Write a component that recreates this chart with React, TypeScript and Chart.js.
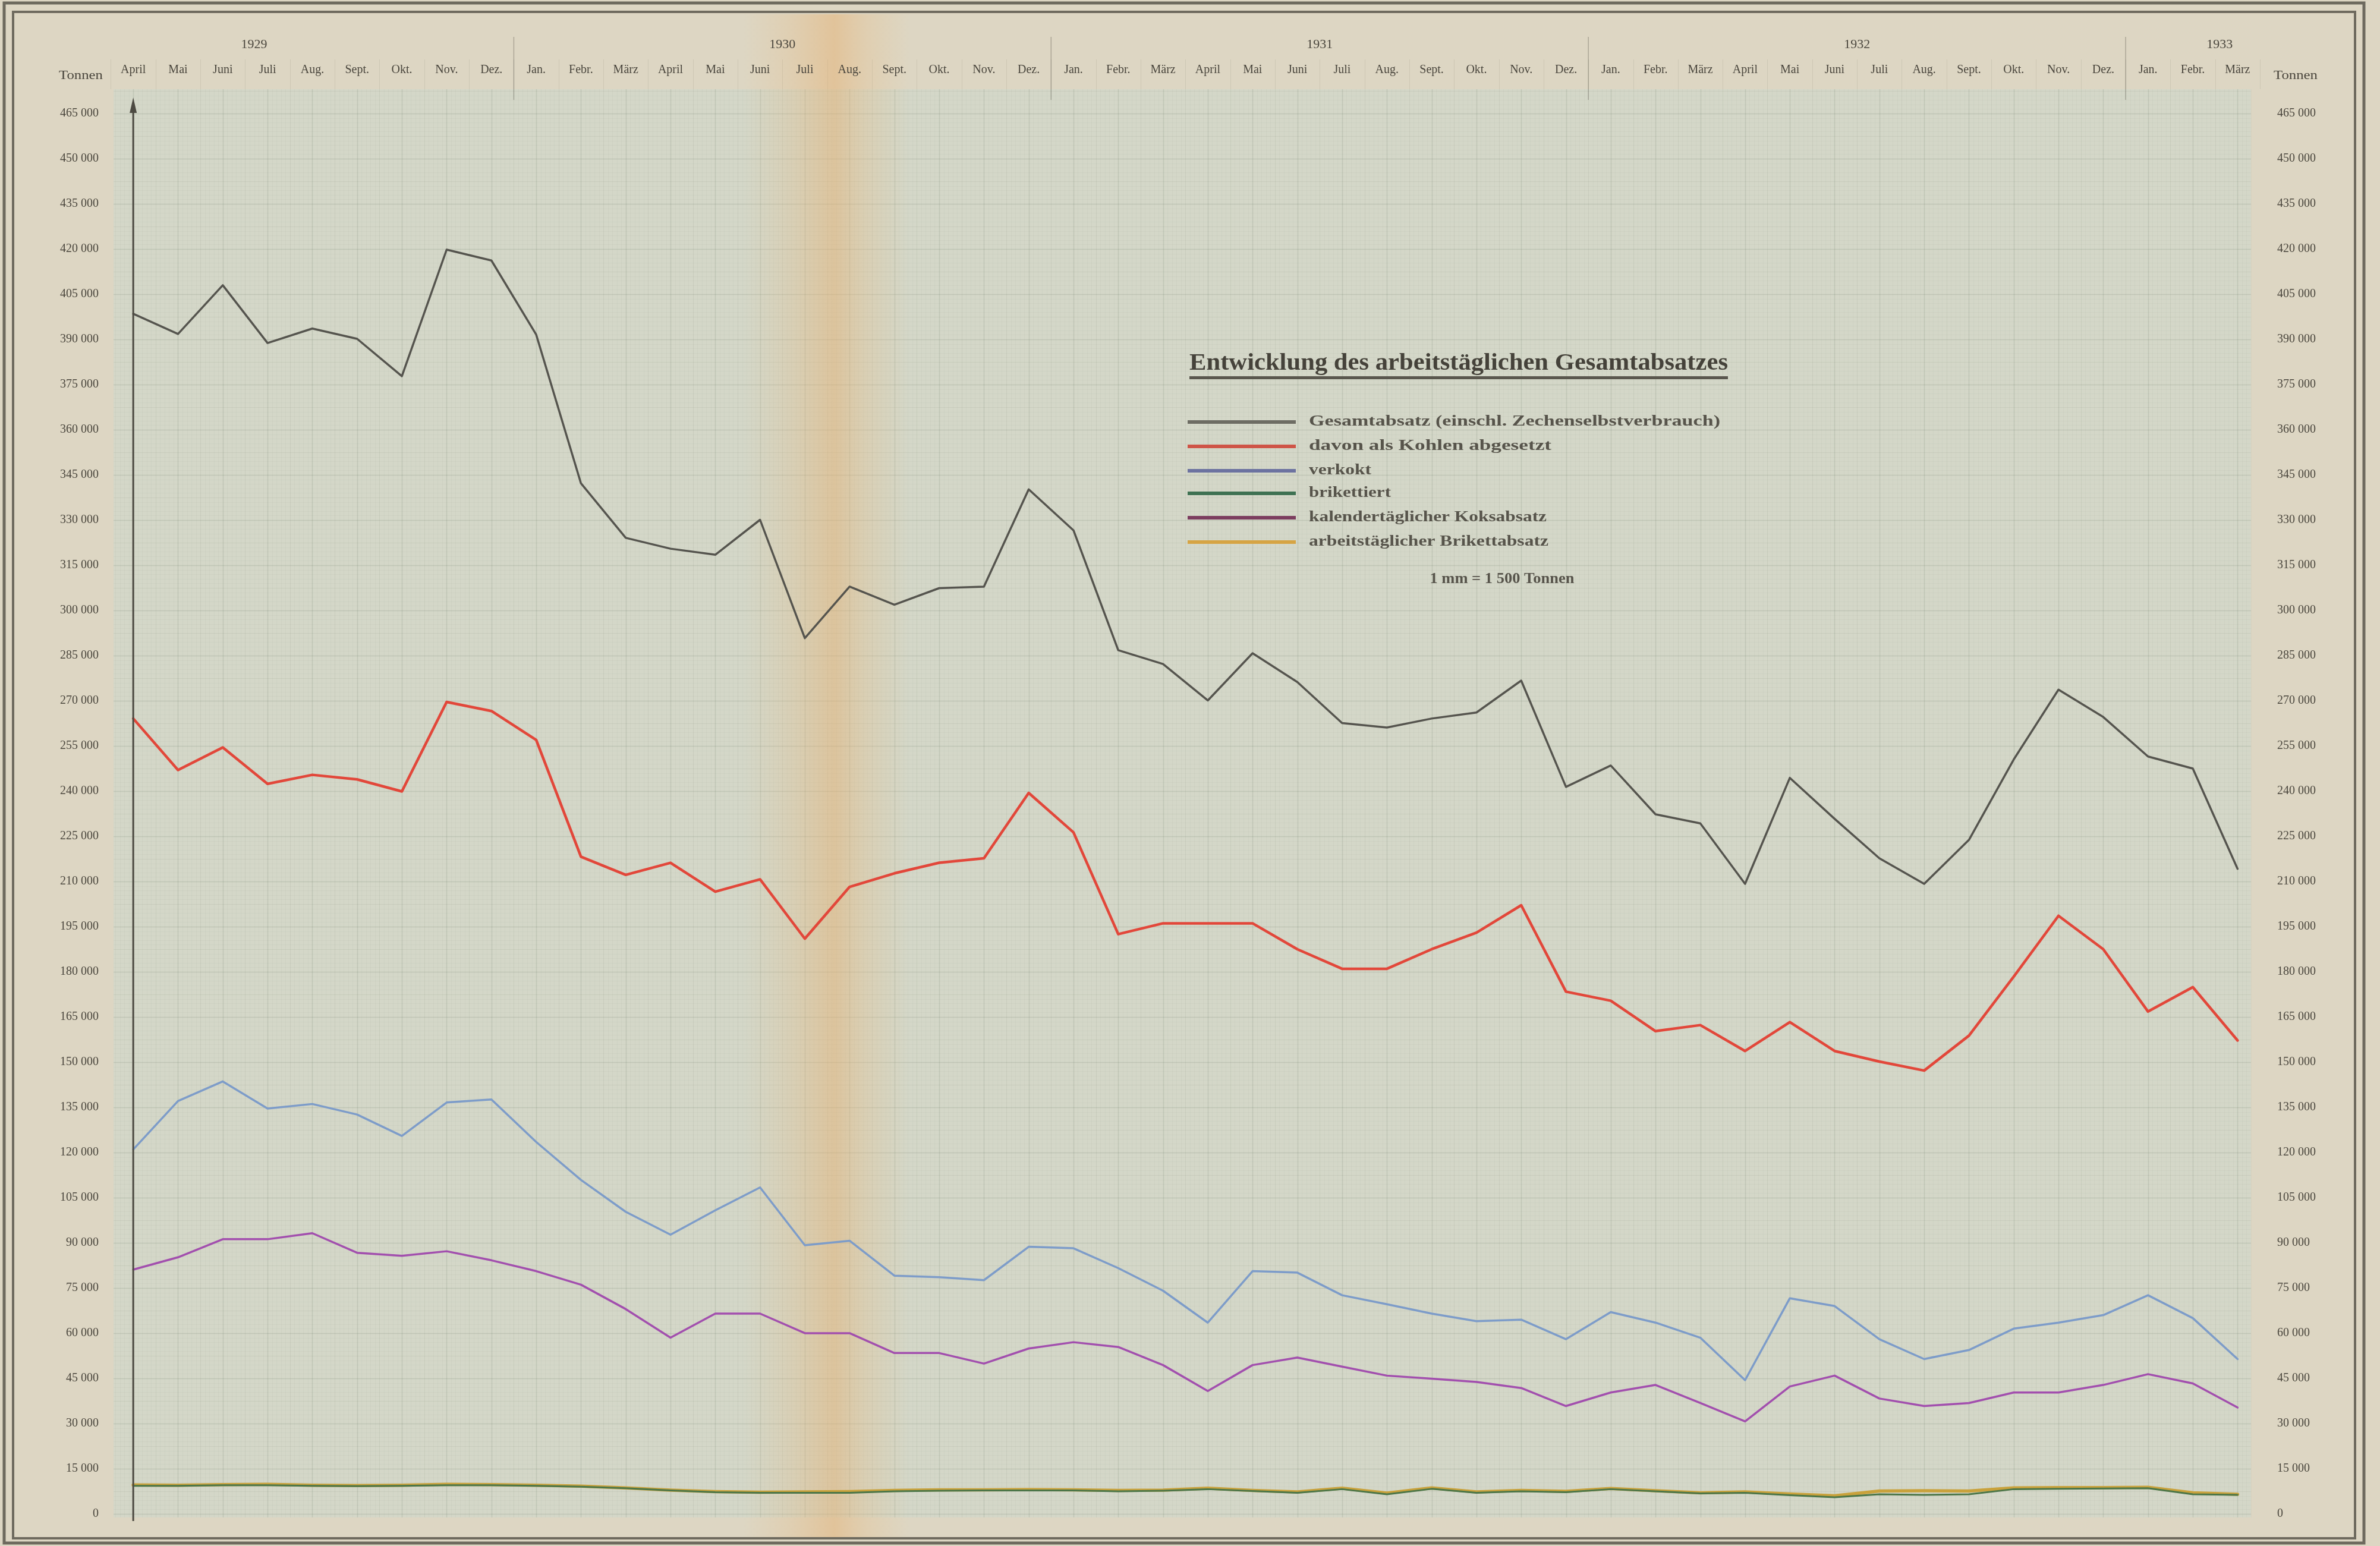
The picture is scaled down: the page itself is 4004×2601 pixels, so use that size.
import React, { useEffect, useRef } from "react";
import { Chart, registerables } from "chart.js";

Chart.register(...registerables);

// ---------- data ----------
const monthLabels = [
  "April", "Mai", "Juni", "Juli", "Aug.", "Sept.", "Okt.", "Nov.", "Dez.",
  "Jan.", "Febr.", "März", "April", "Mai", "Juni", "Juli", "Aug.", "Sept.", "Okt.", "Nov.", "Dez.",
  "Jan.", "Febr.", "März", "April", "Mai", "Juni", "Juli", "Aug.", "Sept.", "Okt.", "Nov.", "Dez.",
  "Jan.", "Febr.", "März", "April", "Mai", "Juni", "Juli", "Aug.", "Sept.", "Okt.", "Nov.", "Dez.",
  "Jan.", "Febr.", "März",
];

const yearLabels = ["1929", "1930", "1931", "1932", "1933"];
const yearLabelPositions = [2.7, 14.5, 26.5, 38.5, 46.6];
const yearBoundaries = [8.5, 20.5, 32.5, 44.5];

const yTickValues = [
  0, 15000, 30000, 45000, 60000, 75000, 90000, 105000, 120000, 135000, 150000,
  165000, 180000, 195000, 210000, 225000, 240000, 255000, 270000, 285000, 300000,
  315000, 330000, 345000, 360000, 375000, 390000, 405000, 420000, 435000, 450000, 465000,
];

const gesamtabsatz = [
  398500, 391800, 408000, 388800, 393600, 390200, 377800, 419800, 416200,
  391600, 342200, 324100, 320500, 318500, 330100, 290800, 307900, 301900, 307400, 307900, 340200,
  326600, 286800, 282200, 270100, 285800, 276200, 262600, 261100, 264100, 266100, 276700, 241400,
  248500, 232300, 229300, 209200, 244400, 230800, 217700, 209200, 223800, 250500, 273700, 264600,
  251500, 247500, 214200,
];

const kohlen = [
  264100, 247000, 254500, 242400, 245400, 243900, 239900, 269600, 266600,
  257000, 218200, 212200, 216200, 206600, 210700, 191000, 208200, 212700, 216200, 217700, 239400,
  226300, 192500, 196100, 196100, 196100, 187500, 181000, 181000, 187500, 193000, 202100, 173400,
  170400, 160300, 162300, 153700, 163300, 153700, 150200, 147200, 158800, 178400, 198600, 187500,
  166800, 174900, 157200,
];

const verkokt = [
  121000, 137100, 143600, 134600, 136100, 132600, 125500, 136600, 137600,
  123500, 110900, 100300, 92700, 100800, 108400, 89200, 90700, 79100, 78600, 77600, 88700,
  88200, 81600, 74100, 63500, 80600, 80100, 72600, 69600, 66500, 64000, 64500, 58000,
  67000, 63500, 58500, 44400, 71600, 69000, 58000, 51400, 54400, 61500, 63500, 66000,
  72600, 65000, 51400,
];

const brikettiert = [
  9300, 9300, 9500, 9500, 9300, 9200, 9300, 9500, 9500,
  9300, 9000, 8500, 7800, 7200, 7000, 7000, 7000, 7500, 7700, 7800, 7800,
  7800, 7500, 7700, 8200, 7600, 7000, 8200, 6500, 8300, 7000, 7500, 7200,
  8200, 7500, 6800, 7000, 6200, 5500, 6500, 6300, 6500, 8200, 8300, 8400,
  8500, 6500, 6300,
];

const koksabsatz = [
  81100, 85200, 91200, 91200, 93200, 86700, 85700, 87200, 84200,
  80600, 76100, 68000, 58500, 66500, 66500, 60000, 60000, 53400, 53400, 49900, 54900,
  57000, 55400, 49400, 40800, 49400, 51900, 48900, 45900, 44900, 43800, 41800, 35800,
  40300, 42800, 36800, 30700, 42300, 45900, 38300, 35800, 36800, 40300, 40300, 42800,
  46400, 43300, 35300,
];

const brikettabsatz = [
  9600, 9500, 9700, 9800, 9500, 9400, 9500, 9800, 9700,
  9500, 9200, 8600, 7900, 7400, 7200, 7300, 7400, 7800, 8000, 8000, 8100,
  8000, 7800, 7900, 8500, 7800, 7300, 8500, 6900, 8600, 7300, 7800, 7500,
  8400, 7700, 7000, 7300, 6600, 6000, 7600, 7700, 7600, 8600, 8700, 8700,
  8800, 7000, 6500,
];

const seriesLabels = [
  "Gesamtabsatz (einschl. Zechenselbstverbrauch)",
  "davon als Kohlen abgesetzt",
  "verkokt",
  "brikettiert",
  "kalendertäglicher Koksabsatz",
  "arbeitstäglicher Brikettabsatz",
];

const titleText = "Entwicklung des arbeitstäglichen Gesamtabsatzes";
const scaleNote = "1 mm = 1 500 Tonnen";
const unitLabel = "Tonnen";

// ---------- styling ----------
const PAGE_BG = "#ddd6c3";
const PAPER_BG = "#d4d7c8";
const INK = "#4a463d";
const FONT = "'Liberation Serif', 'DejaVu Serif', serif";

const X_MIN = -0.44;
const X_MAX = 47.3;
const Y_MIN = -1200;
const Y_MAX = 473100;

function fmtTonnes(v: number): string {
  if (v === 0) return "0";
  const th = Math.floor(v / 1000);
  const rest = String(v % 1000).padStart(3, "0");
  return `${th} ${rest}`;
}

function fitText(ctx: CanvasRenderingContext2D, text: string, x: number, y: number, width: number, align: "left" | "center" = "left") {
  const w = ctx.measureText(text).width;
  const s = width / w;
  ctx.save();
  ctx.translate(align === "center" ? x - width / 2 : x, y);
  ctx.scale(s, 1);
  ctx.textAlign = "left";
  ctx.fillText(text, 0, 0);
  ctx.restore();
}

const paperPlugin = {
  id: "paperPlugin",
  beforeDraw(chart: any) {
    const { ctx, chartArea: a, scales } = chart;
    const xs = scales.x;
    const ys = scales.y;
    ctx.save();
    ctx.fillStyle = PAGE_BG;
    ctx.fillRect(0, 0, chart.width, chart.height);
    ctx.fillStyle = PAPER_BG;
    ctx.fillRect(a.left, a.top, a.right - a.left, a.bottom - a.top);

    // horizontal mm lines
    const kMin = Math.ceil(Y_MIN / 1500);
    const kMax = Math.floor(Y_MAX / 1500);
    for (let k = kMin; k <= kMax; k++) {
      const y = Math.round(ys.getPixelForValue(k * 1500)) + 0.5;
      if (k % 10 === 0) { ctx.strokeStyle = "rgba(95,112,92,0.16)"; ctx.lineWidth = 1.5; }
      else if (k % 5 === 0) { ctx.strokeStyle = "rgba(95,112,92,0.10)"; ctx.lineWidth = 1; }
      else { ctx.strokeStyle = "rgba(95,112,92,0.045)"; ctx.lineWidth = 1; }
      ctx.beginPath();
      ctx.moveTo(a.left, y);
      ctx.lineTo(a.right, y);
      ctx.stroke();
    }
    // vertical mm lines
    const jMin = Math.ceil(X_MIN * 10);
    const jMax = Math.floor(X_MAX * 10);
    for (let j = jMin; j <= jMax; j++) {
      const x = Math.round(xs.getPixelForValue(j / 10)) + 0.5;
      if (j % 10 === 0) { ctx.strokeStyle = "rgba(95,112,92,0.16)"; ctx.lineWidth = 1.5; }
      else if (j % 5 === 0) { ctx.strokeStyle = "rgba(95,112,92,0.10)"; ctx.lineWidth = 1; }
      else { ctx.strokeStyle = "rgba(95,112,92,0.045)"; ctx.lineWidth = 1; }
      ctx.beginPath();
      ctx.moveTo(x, a.top);
      ctx.lineTo(x, a.bottom);
      ctx.stroke();
    }

    // header month separators
    ctx.strokeStyle = "rgba(90,88,78,0.12)";
    ctx.lineWidth = 1;
    for (let i = 0; i <= monthLabels.length; i++) {
      const x = Math.round(xs.getPixelForValue(i - 0.5)) + 0.5;
      ctx.beginPath();
      ctx.moveTo(x, 100);
      ctx.lineTo(x, a.top);
      ctx.stroke();
    }
    // year separators
    ctx.strokeStyle = "rgba(80,78,70,0.35)";
    ctx.lineWidth = 1.5;
    yearBoundaries.forEach((b) => {
      const x = xs.getPixelForValue(b);
      ctx.beginPath();
      ctx.moveTo(x, 62);
      ctx.lineTo(x, a.top + 18);
      ctx.stroke();
    });

    // fold stain
    const g = ctx.createLinearGradient(1250, 0, 1530, 0);
    g.addColorStop(0, "rgba(232,182,120,0)");
    g.addColorStop(0.3, "rgba(232,178,112,0.22)");
    g.addColorStop(0.55, "rgba(230,172,104,0.45)");
    g.addColorStop(0.75, "rgba(232,185,125,0.25)");
    g.addColorStop(1, "rgba(232,190,130,0)");
    ctx.fillStyle = g;
    ctx.fillRect(1250, 24, 280, chart.height - 36);
    ctx.restore();
  },
  afterDraw(chart: any) {
    const { ctx, chartArea: a, scales } = chart;
    const xs = scales.x;
    ctx.save();

    // y-axis arrow
    const ax = xs.getPixelForValue(0);
    ctx.strokeStyle = "#4d4a42";
    ctx.fillStyle = "#4d4a42";
    ctx.lineWidth = 3;
    ctx.beginPath();
    ctx.moveTo(ax, a.bottom + 6);
    ctx.lineTo(ax, 175);
    ctx.stroke();
    ctx.beginPath();
    ctx.moveTo(ax - 6, 190);
    ctx.lineTo(ax, 164);
    ctx.lineTo(ax + 6, 190);
    ctx.closePath();
    ctx.fill();

    // unit labels
    ctx.fillStyle = INK;
    ctx.textBaseline = "middle";
    ctx.font = `22px ${FONT}`;
    fitText(ctx, unitLabel, 136, 127, 74, "center");
    fitText(ctx, unitLabel, 3862, 127, 74, "center");

    // title
    ctx.fillStyle = "#45423a";
    ctx.font = `bold 40px ${FONT}`;
    ctx.textBaseline = "alphabetic";
    fitText(ctx, titleText, 2001, 622, 906);
    ctx.fillStyle = "#5a574e";
    ctx.fillRect(2001, 633, 906, 5);

    // legend
    const rowsY = [710, 751, 792, 830, 871, 912];
    const rowW = [692, 408, 105, 138, 400, 403];
    ctx.font = `bold 25px ${FONT}`;
    ctx.textBaseline = "middle";
    chart.data.datasets.forEach((ds: any, i: number) => {
      const y = rowsY[i];
      ctx.strokeStyle = ds.legendColor || ds.borderColor;
      ctx.lineWidth = 6;
      ctx.beginPath();
      ctx.moveTo(1998, y);
      ctx.lineTo(2180, y);
      ctx.stroke();
      ctx.fillStyle = "#57544b";
      fitText(ctx, ds.label, 2202, y, rowW[i]);
    });
    fitText(ctx, scaleNote, 2527, 975, 243, "center");

    // outer frame
    ctx.strokeStyle = "#6e6a5e";
    ctx.lineWidth = 5;
    ctx.strokeRect(7, 5, 3970, 2591);
    ctx.lineWidth = 4;
    ctx.strokeRect(22, 20, 3940, 2568);
    ctx.restore();
  },
};

function makeDataset(label: string, values: number[], color: string, width: number, legendColor?: string) {
  return {
    label,
    data: values.map((v, i) => ({ x: i, y: v })),
    borderColor: color,
    backgroundColor: color,
    legendColor: legendColor || color,
    borderWidth: width,
    pointRadius: 0,
    tension: 0,
    fill: false,
    borderJoinStyle: "round",
    borderCapStyle: "round",
  };
}

export default function App() {
  const canvasRef = useRef<HTMLCanvasElement | null>(null);

  useEffect(() => {
    document.body.style.margin = "0";
    document.body.style.background = PAGE_BG;
    const canvas = canvasRef.current;
    if (!canvas) return;

    const tickFont = { family: FONT, size: 20 };

    const chart = new Chart(canvas, {
      type: "line",
      data: {
        datasets: [
          makeDataset(seriesLabels[0], gesamtabsatz, "#55544e", 3.5, "#6d6c63"),
          makeDataset(seriesLabels[1], kohlen, "#e2473a", 4.5, "#cf5447"),
          makeDataset(seriesLabels[2], verkokt, "#7d9cc9", 3.5, "#6c72a0"),
          makeDataset(seriesLabels[3], brikettiert, "#4c7648", 3, "#3e7152"),
          makeDataset(seriesLabels[4], koksabsatz, "#a24fae", 3.5, "#7c3d5f"),
          makeDataset(seriesLabels[5], brikettabsatz, "#c9a23c", 5.5, "#d6a444"),
        ] as any,
      },
      options: {
        responsive: false,
        animation: false,
        events: [],
        layout: { padding: { top: 40, bottom: 48, left: 0, right: 40 } },
        plugins: {
          legend: { display: false },
          title: { display: false },
          tooltip: { enabled: false },
        },
        scales: {
          x: {
            type: "linear",
            position: "top",
            min: X_MIN,
            max: X_MAX,
            weight: 0,
            grid: { display: false },
            border: { display: false },
            afterBuildTicks: (s: any) => {
              s.ticks = monthLabels.map((_, i) => ({ value: i }));
            },
            afterFit: (s: any) => {
              s.height = 45;
            },
            ticks: {
              autoSkip: false,
              maxRotation: 0,
              padding: 12,
              color: INK,
              font: tickFont,
              callback: (v: any) => monthLabels[Math.round(Number(v))] ?? "",
            },
          },
          xYear: {
            type: "linear",
            position: "top",
            min: X_MIN,
            max: X_MAX,
            weight: 1,
            grid: { display: false },
            border: { display: false },
            afterBuildTicks: (s: any) => {
              s.ticks = yearLabelPositions.map((p) => ({ value: p }));
            },
            afterFit: (s: any) => {
              s.height = 65;
            },
            ticks: {
              autoSkip: false,
              maxRotation: 0,
              padding: 9,
              color: INK,
              font: { family: FONT, size: 22 },
              callback: (_v: any, i: number) => yearLabels[i] ?? "",
            },
          },
          y: {
            type: "linear",
            position: "left",
            min: Y_MIN,
            max: Y_MAX,
            grid: { display: false },
            border: { display: false },
            afterBuildTicks: (s: any) => {
              s.ticks = yTickValues.map((v) => ({ value: v }));
            },
            afterFit: (s: any) => {
              s.width = 191;
            },
            ticks: {
              padding: 17,
              color: INK,
              font: tickFont,
              callback: (v: any) => fmtTonnes(Number(v)),
            },
          },
          y2: {
            type: "linear",
            position: "right",
            min: Y_MIN,
            max: Y_MAX,
            grid: { display: false },
            border: { display: false },
            afterBuildTicks: (s: any) => {
              s.ticks = yTickValues.map((v) => ({ value: v }));
            },
            afterFit: (s: any) => {
              s.width = 177;
            },
            ticks: {
              padding: 36,
              color: INK,
              font: tickFont,
              callback: (v: any) => fmtTonnes(Number(v)),
            },
          },
        },
      } as any,
      plugins: [paperPlugin as any],
    });

    return () => {
      chart.destroy();
    };
  }, []);

  return (
    <div style={{ width: 4004, height: 2601, background: PAGE_BG }}>
      <canvas ref={canvasRef} width={4004} height={2601} style={{ display: "block", width: 4004, height: 2601 }} />
    </div>
  );
}
